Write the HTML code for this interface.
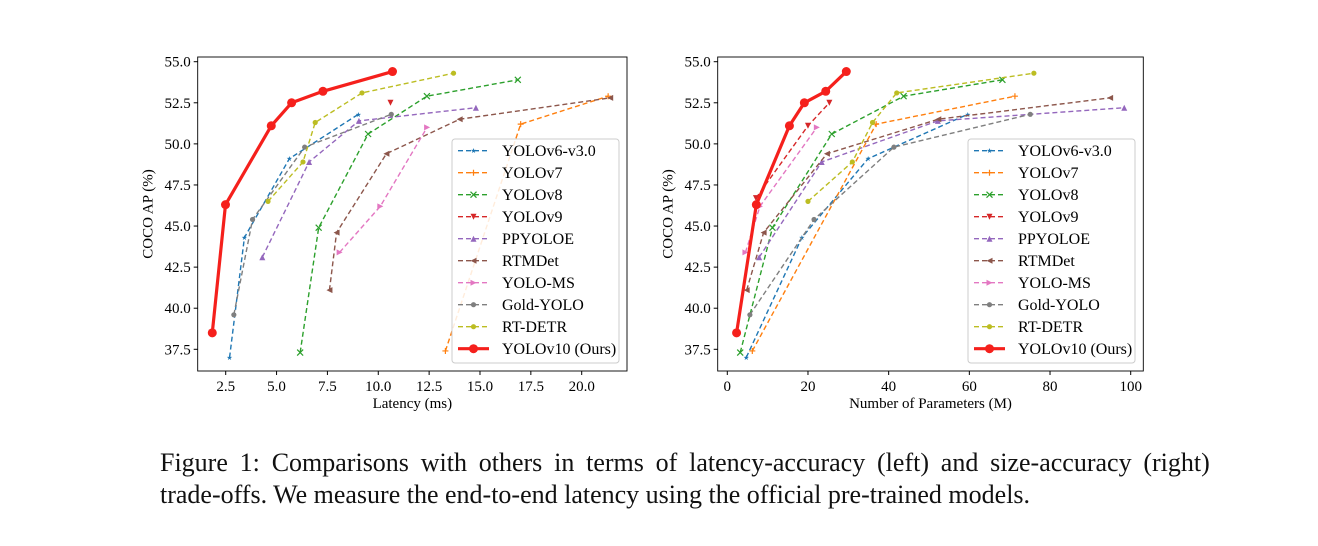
<!DOCTYPE html>
<html><head><meta charset="utf-8"><style>
body{margin:0;background:#fff;width:1318px;height:546px;overflow:hidden;font-family:"Liberation Serif",serif}
#cap{position:absolute;left:160px;top:447px;font-size:26px;line-height:32px;color:#111;white-space:nowrap}
#cap1{word-spacing:5.3px}
</style></head><body>
<svg id="svg" width="1318" height="546" style="position:absolute;left:0;top:0"></svg>
<div id="cap"><div id="cap1">Figure 1: Comparisons with others in terms of latency-accuracy (left) and size-accuracy (right)</div><div>trade-offs. We measure the end-to-end latency using the official pre-trained models.</div></div>
<script>
const names=["YOLOv6-v3.0","YOLOv7","YOLOv8","YOLOv9","PPYOLOE","RTMDet","YOLO-MS","Gold-YOLO","RT-DETR","YOLOv10 (Ours)"];
const colors=["#1f77b4","#ff7f0e","#2ca02c","#d62728","#9467bd","#8c564b","#e377c2","#7f7f7f","#bcbd22","#f5201c"];
const markers=["star","plus","x","vdown","tri","tleft","tright","dot","dot","dot"];
const yTicks=[37.5,40.0,42.5,45.0,47.5,50.0,52.5,55.0];
const latTicks=[2.5,5.0,7.5,10.0,12.5,15.0,17.5,20.0];
const parTicks=[0,20,40,60,80,100];
const latX=[[2.69,3.42,5.63,9.02],[13.3,17.0,21.3],[6.16,7.07,9.5,12.39,16.86],[10.6],[4.3,6.6,9.05,14.8],[7.6,7.95,10.4,14.0,21.4],[8.1,10.1,12.4],[2.9,3.82,6.38,10.64],[4.58,6.3,6.9,9.2,13.7],[1.84,2.49,4.74,5.74,7.28,10.7]];
const latY=[[37.0,44.3,49.1,51.8],[37.4,51.2,52.9],[37.3,44.9,50.6,52.9,53.9],[52.5],[43.1,48.9,51.4,52.2],[41.1,44.6,49.4,51.5,52.8],[43.4,46.2,51.0],[39.6,45.4,49.8,51.8],[46.5,48.9,51.3,53.1,54.3],[38.5,46.3,51.1,52.5,53.2,54.4]];
const parX=[[4.7,18.5,34.9,59.6],[6.2,36.9,71.3],[3.2,11.2,25.9,43.7,68.2],[7.1,20.0,25.3],[7.9,23.4,52.2,98.4],[4.8,9.0,24.7,52.3,94.9],[4.5,8.1,22.2],[5.6,21.5,41.3,75.1],[20,31,36,42,76],[2.3,7.2,15.4,19.1,24.4,29.5]];
const parY=[[37.0,44.3,49.1,51.8],[37.4,51.2,52.9],[37.3,44.9,50.6,52.9,53.9],[46.7,51.1,52.5],[43.1,48.9,51.4,52.2],[41.1,44.6,49.4,51.5,52.8],[43.4,46.2,51.0],[39.6,45.4,49.8,51.8],[46.5,48.9,51.3,53.1,54.3],[38.5,46.3,51.1,52.5,53.2,54.4]];
const NS="http://www.w3.org/2000/svg";
const svg=document.getElementById('svg');
function el(t,a,p){const e=document.createElementNS(NS,t);for(const k in a)e.setAttribute(k,a[k]);(p||svg).appendChild(e);return e;}
function marker(g,m,x,y,c,big){
  let e;const s=3;
  if(m==="dot"){e=el('circle',{cx:x,cy:y,r:big?4.5:2.6,fill:c},g);}
  else if(m==="plus"){e=el('path',{d:`M${x-s} ${y}H${x+s}M${x} ${y-s}V${y+s}`,stroke:c,'stroke-width':1.2},g);}
  else if(m==="x"){e=el('path',{d:`M${x-s} ${y-s}L${x+s} ${y+s}M${x-s} ${y+s}L${x+s} ${y-s}`,stroke:c,'stroke-width':1.2},g);}
  else if(m==="star"){e=el('text',{x:x,y:y+2.5,'font-size':7,'text-anchor':'middle',fill:c},g);e.textContent="★";}
  else{const pts={vdown:[[-s,-s],[s,-s],[0,s]],tri:[[-s,s],[s,s],[0,-s]],tleft:[[s,-s],[s,s],[-s,0]],tright:[[-s,-s],[-s,s],[s,0]]}[m];
    e=el('polygon',{points:pts.map(p=>(x+p[0])+','+(y+p[1])).join(' '),fill:c},g);}
  
  
}
function chart(id,L,R,T,B,xmin,xmax,X0,X1,xTicks,xfmt,XS,YS,xlabel,legX){
  const g=el('g',{});
  
  
  const sx=v=>X0+(v-xmin)/(xmax-xmin)*(X1-X0);
  const sy=v=>349.3+(v-37.5)/(55-37.5)*(61.7-349.3);
  const fr=el('rect',{x:L,y:T,width:R-L,height:B-T,fill:'none',stroke:'#000','stroke-width':0.9},g);
  
  yTicks.forEach(v=>{const y=sy(v);el('line',{x1:L-4,x2:L,y1:y,y2:y,stroke:'#000'},g);
    const t=el('text',{x:L-7,y:y+5,'font-size':15,'text-anchor':'end'},g);t.textContent=v.toFixed(1);
    });
  xTicks.forEach(v=>{const x=sx(v);el('line',{x1:x,x2:x,y1:B,y2:B+4,stroke:'#000'},g);
    const t=el('text',{x:x,y:B+20,'font-size':15,'text-anchor':'middle'},g);t.textContent=xfmt(v);
    });
  const xl=el('text',{x:(L+R)/2,y:B+37,'font-size':15,'text-anchor':'middle'},g);xl.textContent=xlabel;
  
  const yl=el('text',{x:0,y:0,'font-size':15,'text-anchor':'middle',transform:`translate(${L-45},${(T+B)/2}) rotate(-90)`},g);yl.textContent="COCO AP (%)";
  
  for(let i=0;i<names.length;i++){
    const big=i===9;
    const pts=XS[i].map((v,j)=>sx(v)+','+sy(YS[i][j])).join(' ');
    const pl=el('polyline',{points:pts,fill:'none',stroke:colors[i],'stroke-width':big?3.2:1.4,'stroke-dasharray':big?'none':'5,3','stroke-linejoin':'round'},g);
    
    
    XS[i].forEach((v,j)=>marker(g,markers[i],sx(v),sy(YS[i][j]),colors[i],big));
  }
  const lg=el('g',{},g);
  
  el('rect',{x:legX,y:139,width:167,height:224,rx:3,fill:'#fff','fill-opacity':0.85,stroke:'#ccc'},lg);
  names.forEach((n,i)=>{const y=150.7+i*22;const big=i===9;
    el('line',{x1:legX+6,x2:legX+37,y1:y,y2:y,stroke:colors[i],'stroke-width':big?3.2:1.4,'stroke-dasharray':big?'none':'5,3'},lg);
    marker(lg,markers[i],legX+21.5,y,colors[i],big);
    const t=el('text',{x:legX+50,y:y+5.5,'font-size':16},lg);t.textContent=n;
    });
}
chart('latency-chart',197.7,627,57,371,2.5,20,225.7,581.7,latTicks,v=>v.toFixed(1),latX,latY,'Latency (ms)',452);
chart('params-chart',717.7,1143.3,57,371,0,100,727.3,1130.7,parTicks,v=>String(v),parX,parY,'Number of Parameters (M)',968);
</script>
</body></html>
